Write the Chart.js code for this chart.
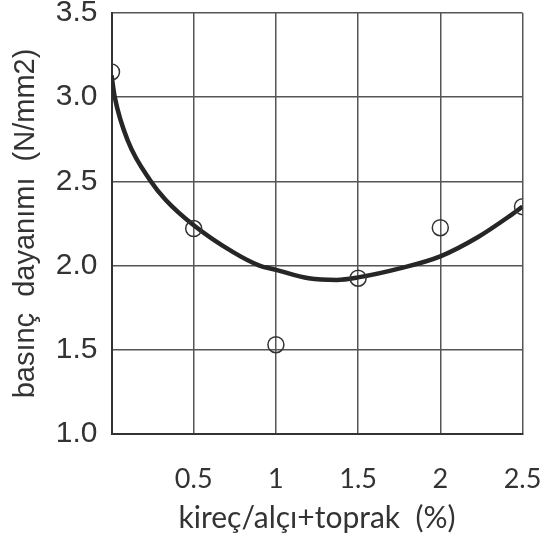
<!DOCTYPE html>
<html>
<head>
<meta charset="utf-8">
<script src="https://cdn.jsdelivr.net/npm/chart.js@4.4.1/dist/chart.umd.min.js"></script>
<style>
  body { margin: 0; background: #fff; }
  #kutu { width: 550px; height: 551px; }
</style>
</head>
<body>
<div id="kutu"><canvas id="grafica" width="550" height="551"></canvas></div>
<script>
// deney noktalari
const oranlar = [0, 0.5, 1, 1.5, 2, 2.5];
const dayanim = [3.15, 2.22, 1.53, 1.925, 2.225, 2.35];

// egri (resimden okunan noktalar)
const egriX = [0, 0.02, 0.1, 0.24, 0.33, 0.5, 0.74, 0.9, 1.0, 1.2, 1.37, 1.5, 1.76, 2.0, 2.23, 2.43, 2.5];
const egriY = [3.13, 3.0, 2.74, 2.5, 2.39, 2.24, 2.08, 2.0, 1.975, 1.925, 1.915, 1.93, 1.985, 2.055, 2.17, 2.3, 2.35];

const xEtiketler = ['', '0.5', '1', '1.5', '2', '2.5'];

const noktalar = oranlar.map((x, i) => ({ x: x, y: dayanim[i] }));
const egri = egriX.map((x, i) => ({ x: x, y: egriY[i] }));

const ctx = document.getElementById('grafica').getContext('2d');

new Chart(ctx, {
    type: 'scatter',
    data: {
        datasets: [
            {
                label: 'egri',
                data: egri,
                showLine: true,
                borderColor: '#262626',
                borderWidth: 4.5,
                pointRadius: 0,
                cubicInterpolationMode: 'monotone',
                fill: false,
                order: 2
            },
            {
                label: 'deney',
                data: noktalar,
                showLine: false,
                pointRadius: 8,
                pointBorderWidth: 1.5,
                pointBorderColor: '#333',
                pointBackgroundColor: 'rgba(0,0,0,0)',
                order: 1
            }
        ]
    },
    options: {
        responsive: false,
        animation: false,
        layout: { padding: { top: 13, right: 27.5, left: 0, bottom: 0 } },
        plugins: {
            legend: { display: false },
            tooltip: { enabled: false }
        },
        scales: {
            x: {
                type: 'linear',
                min: 0,
                max: 2.5,
                afterFit: (scale) => {
                    scale.height = 117;
                    scale.paddingLeft = 0;
                    scale.paddingRight = 0;
                },
                grid: { color: '#555', lineWidth: 1.5, drawTicks: false },
                border: { color: '#333', width: 2 },
                ticks: {
                    stepSize: 0.5,
                    padding: 29,
                    color: '#333',
                    font: { family: 'Lato', size: 27 },
                    callback: (v) => xEtiketler[Math.round(v / 0.5)]
                },
                title: {
                    display: true,
                    text: 'kireç/alçı+toprak  (%)',
                    color: '#333',
                    font: { family: 'Lato', size: 30 },
                    padding: { top: 0, bottom: 15 }
                }
            },
            y: {
                min: 1,
                max: 3.5,
                afterFit: (scale) => {
                    scale.width = 111.5;
                    scale.paddingTop = 0;
                    scale.paddingBottom = 0;
                },
                grid: { color: '#555', lineWidth: 1.5, drawTicks: false },
                border: { color: '#333', width: 2 },
                ticks: {
                    stepSize: 0.5,
                    padding: 14,
                    color: '#333',
                    font: { family: 'Liberation Sans', size: 30 },
                    callback: (v) => v.toFixed(1)
                },
                title: {
                    display: true,
                    text: 'basınç  dayanımı  (N/mm2)',
                    color: '#333',
                    font: { family: 'Liberation Sans', size: 29 },
                    padding: { top: 9, bottom: 0 }
                }
            }
        }
    }
});
</script>
</body>
</html>
